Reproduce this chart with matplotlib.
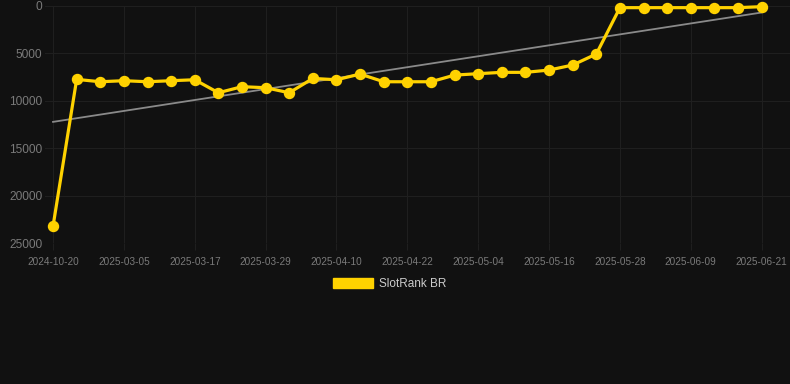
import matplotlib.pyplot as plt
from matplotlib.patches import Patch
import numpy as np

dates = ['2024-10-20', '2025-02-25', '2025-03-01', '2025-03-05', '2025-03-09', '2025-03-13',
         '2025-03-17', '2025-03-21', '2025-03-25', '2025-03-29', '2025-04-02', '2025-04-06',
         '2025-04-10', '2025-04-14', '2025-04-18', '2025-04-22', '2025-04-26', '2025-04-30',
         '2025-05-04', '2025-05-08', '2025-05-12', '2025-05-16', '2025-05-20', '2025-05-24',
         '2025-05-28', '2025-06-01', '2025-06-05', '2025-06-09', '2025-06-13', '2025-06-17',
         '2025-06-21']
rank = [23200, 7730, 7980, 7870, 7980, 7870, 7770, 9140, 8500, 8610, 9140, 7630, 7770,
        7170, 7980, 7980, 7980, 7280, 7130, 6990, 6990, 6750, 6220, 5060, 175, 175, 175,
        175, 175, 175, 70]
series_name = 'SlotRank BR'

bg = '#111111'
gold = '#FFD200'
grid_c = '#1f1f1f'
tick_c = '#7a7a7a'

plt.rcParams['font.family'] = ['Liberation Sans', 'DejaVu Sans']

fig = plt.figure(figsize=(7.9, 3.84), dpi=100, facecolor=bg)
ax = fig.add_axes([45 / 790, 1 - 243.3 / 384, 1 - 45 / 790, (243.3 - 6) / 384])
ax.set_facecolor(bg)

x = np.arange(len(rank))
# trend line (least squares)
k, b = np.polyfit(x, rank, 1)
ax.plot(x, k * x + b, color='#8a8a8a', lw=1.3, zorder=2)

ax.plot(x, rank, color=gold, lw=2.3, marker='o', markersize=7.2, zorder=3, clip_on=False)

ax.set_ylim(25000, 0)
ax.set_xlim(-0.34, 31.2)
ax.set_yticks([0, 5000, 10000, 15000, 20000, 25000])
ax.set_xticks(x[::3])
ax.set_xticklabels(dates[::3])
ax.grid(True, color=grid_c, lw=0.8)
ax.set_axisbelow(True)
for s in ax.spines.values():
    s.set_visible(False)
ax.tick_params(axis='x', colors=grid_c, length=5, width=0.8, labelcolor=tick_c,
               labelsize=7.2, pad=5)
ax.tick_params(axis='y', length=0, labelcolor=tick_c, labelsize=8.6, pad=2)

fig.legend(handles=[Patch(facecolor=gold, edgecolor=gold)], labels=[series_name],
           loc='center', bbox_to_anchor=(390 / 790, 1 - 284 / 384), frameon=False,
           fontsize=8.5, labelcolor='#cccccc', handlelength=3.4, handleheight=0.9,
           handletextpad=0.5)

fig.savefig('out.png', dpi=100, facecolor=bg)
